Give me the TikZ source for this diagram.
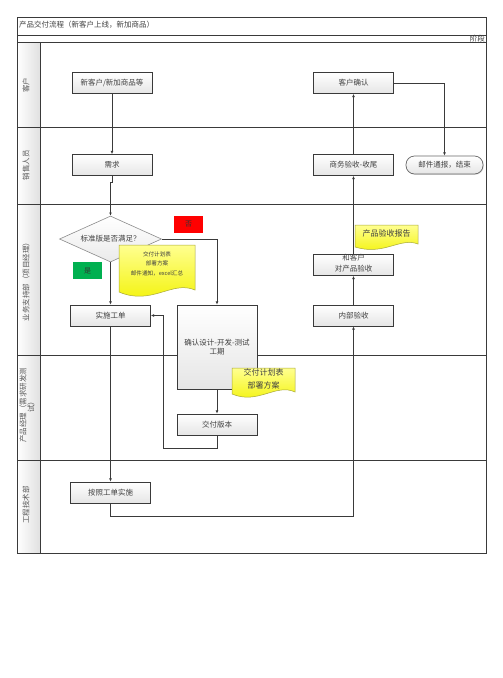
\documentclass[tikz,border=0pt]{standalone}
\usepackage{fontspec}
\setmainfont{Noto Sans CJK SC}
\usetikzlibrary{shapes.geometric,arrows.meta,shadows}
\definecolor{ln}{HTML}{3A3A3A}
\definecolor{txt}{HTML}{404040}
\definecolor{docfill1}{HTML}{FFFF90}
\definecolor{docfill2}{HTML}{F2F200}
\definecolor{docline}{HTML}{A8A838}
\definecolor{okgreen}{HTML}{00B050}
\tikzset{
  frame/.style={draw=ln, line width=0.8pt},
  box/.style={draw=ln, line width=0.7pt, top color=white, bottom color=black!10,
    minimum width=80pt, minimum height=21pt, inner sep=1pt,
    font=\fontsize{7.5}{9}\selectfont, text=txt, align=center,
    drop shadow={shadow xshift=0.8pt,shadow yshift=-0.8pt,opacity=0.25}},
  endbox/.style={box, draw=black!60, rounded corners=8.5pt, minimum width=77pt, minimum height=18pt},
  decision/.style={diamond, draw=black!45, line width=0.6pt, top color=white, bottom color=black!8,
    minimum width=102pt, minimum height=46pt, inner sep=0pt, aspect=2.2,
    font=\fontsize{7.5}{9}\selectfont, text=txt},
  tag/.style={minimum width=29pt, minimum height=17pt, inner sep=0pt, font=\fontsize{7}{8}\selectfont, text=black!80},
  doc/.style={draw=docline, line width=0.5pt, top color=docfill1, bottom color=docfill2},
  doctext/.style={align=center, text=txt, inner sep=0pt},
  lanelab/.style={rotate=90, align=center, font=\fontsize{7.5}{8}\selectfont, text=black!65, inner sep=0pt},
  arr/.style={draw=ln, line width=0.7pt, -{Latex[length=3.2pt,width=2.8pt]}},
  con/.style={draw=ln, line width=0.7pt}
}
\begin{document}
\begin{tikzpicture}[x=1pt,y=-1pt]
\useasboundingbox (0,0) rectangle (503,678);
\fill[white] (0,0) rectangle (503,678);
% lane label column
\shade[left color=white, right color=black!12] (17,42) rectangle (40,553);
% frame and lines
\draw[frame] (17,17) rectangle (486,553);
\draw[frame] (17,35) -- (486,35);
\draw[frame] (17,42) -- (486,42);
\draw[frame] (40,42) -- (40,553);
\foreach \yy in {127,204,355,460} \draw[frame] (17,\yy) -- (486,\yy);
% title
\node[anchor=west, inner sep=0pt, font=\fontsize{7.5}{9}\selectfont, text=txt] (title) at (19,24.5) {产品交付流程（新客户上线，新加商品）};
\node[anchor=east, inner sep=0pt, font=\fontsize{7.5}{9}\selectfont, text=txt] (stage) at (485,38.5) {阶段};
% lane labels
\node[lanelab] (lane1) at (26,85) {客户};
\node[lanelab] (lane2) at (26,165) {销售人员};
\node[lanelab] (lane3) at (26,280) {业务支持部（项目经理）};
\node[lanelab] (lane4) at (27,405) {产品经理（需求研发测\\试）};
\node[lanelab] (lane5) at (26,505) {工程技术部};
% nodes
\node[box] (new) at (112,83) {新客户/新加商品等};
\node[box] (req) at (112,165) {需求};
\node[box] (cconf) at (353.5,83) {客户确认};
\node[box] (biz) at (353.5,165) {商务验收-收尾};
\node[endbox] (mail) at (444.5,165) {邮件通报，结束};
\node[decision] (dec) at (110.5,239) {标准版是否满足？};
\node[tag, fill=red] (no) at (188.5,224.5) {否};
\node[tag, fill=okgreen] (yes) at (87.5,270.5) {是};
\node[box] (work) at (110.5,315.5) {实施工单};
\node[box, minimum height=84pt, text width=78pt] (design) at (217,347) {确认设计-开发-测试\\工期};
\node[box] (ver) at (217,424.5) {交付版本};
\node[box] (impl) at (110.5,492.5) {按照工单实施};
\node[box] (inner) at (353.5,315.5) {内部验收};
\node[box] (acc) at (353.5,265) {};
\node[inner sep=0pt, align=center, font=\fontsize{7.5}{11}\selectfont, text=txt] (acctext) at (353.5,263) {和客户\\对产品验收};
% documents
\path[doc] (119,245) -- (195,245) -- (195,290) .. controls (172,280) and (152,306) .. (119,292) -- cycle;
\node[doctext, font=\fontsize{5.6}{9.5}\selectfont] (doc1) at (157,263.5) {交付计划表\\部署方案\\邮件通知，excel汇总};
\path[doc] (232,368) -- (295,368) -- (295,392) .. controls (276,383) and (258,405) .. (232,394) -- cycle;
\node[doctext, font=\fontsize{8}{12.5}\selectfont] (doc2) at (263.5,379) {交付计划表\\部署方案};
\path[doc] (355,225) -- (418,225) -- (418,244) .. controls (400,237) and (384,256) .. (355,247) -- cycle;
\node[doctext, font=\fontsize{8}{10}\selectfont] (doc3) at (386.5,233.5) {产品验收报告};
% corners
\coordinate (k1) at (163,448);
\coordinate (k2) at (353.5,516);
% connectors
\draw[arr] (new.south) -- (req.north);
\draw[arr] (req.south) -- ++(0,6) -| (dec.north);
\draw[arr] (dec.east) -| (design.north);
\draw[arr] (dec.south) -- (work.north);
\draw[arr] (design.south) -- (ver.north);
\draw[arr] (ver.south) |- (k1) |- (work.east);
\draw[arr] (work.south) -- (impl.north);
\draw[con] (impl.south) |- (k2);
\draw[arr] (k2) -- (inner.south);
\draw[arr] (inner.north) -- (acc.south);
\draw[arr] (acc.north) -- (biz.south);
\draw[arr] (biz.north) -- (cconf.south);
\draw[arr] (cconf.east) -| (mail.north);
\end{tikzpicture}
\end{document}
